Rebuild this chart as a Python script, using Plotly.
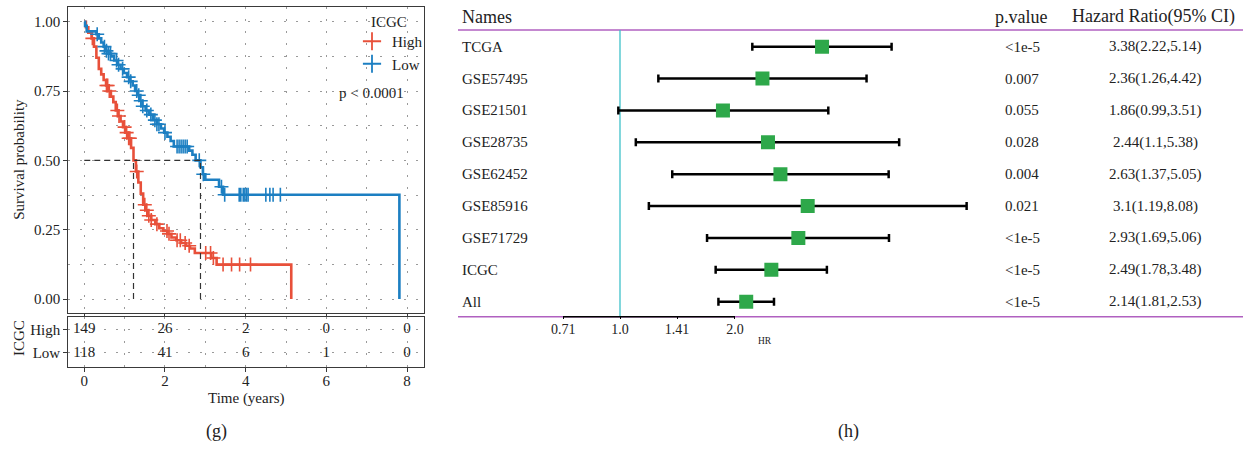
import numpy as np
import plotly.graph_objects as go

# ---------------- Kaplan-Meier data (ICGC) ----------------
high_t = [0, 0.04, 0.10, 0.18, 0.24, 0.30, 0.36, 0.42, 0.48, 0.54, 0.60, 0.66, 0.72, 0.78,
          0.84, 0.90, 0.96, 1.02, 1.08, 1.16, 1.22, 1.28, 1.34, 1.40, 1.46, 1.52, 1.58, 1.66,
          1.76, 1.86, 1.96, 2.06, 2.16, 2.28, 2.40, 2.52, 2.62, 2.74, 3.15, 3.28, 5.13]
high_s = [1.0, 0.98, 0.96, 0.94, 0.91, 0.87, 0.83, 0.81, 0.79, 0.77, 0.75, 0.73, 0.71, 0.68,
          0.66, 0.64, 0.62, 0.60, 0.58, 0.545, 0.50, 0.46, 0.42, 0.38, 0.34, 0.32, 0.30, 0.285,
          0.27, 0.255, 0.245, 0.235, 0.222, 0.212, 0.202, 0.192, 0.182, 0.166, 0.148, 0.124, 0.0]
low_t = [0, 0.02, 0.06, 0.30, 0.36, 0.42, 0.48, 0.54, 0.60, 0.66, 0.74, 0.82, 0.90, 0.98,
         1.06, 1.14, 1.20, 1.26, 1.32, 1.38, 1.44, 1.52, 1.60, 1.70, 1.80, 1.90, 1.98, 2.06,
         2.14, 2.22, 2.60, 2.68, 2.76, 2.88, 2.94, 3.00, 3.34, 3.44, 7.81]
low_s = [1.0, 0.985, 0.965, 0.955, 0.94, 0.925, 0.91, 0.895, 0.885, 0.875, 0.86, 0.845, 0.83, 0.815,
         0.80, 0.785, 0.77, 0.75, 0.735, 0.715, 0.695, 0.68, 0.665, 0.645, 0.63, 0.615, 0.60, 0.585,
         0.57, 0.55, 0.535, 0.52, 0.50, 0.475, 0.45, 0.43, 0.405, 0.376, 0.0]
high_censor_t = [0.20, 0.55, 0.58, 0.62, 0.82, 0.86, 1.00, 1.05, 1.10, 1.13, 1.30, 1.50, 1.55,
                 1.60, 1.66, 1.80, 2.05, 2.10, 2.30, 2.38, 2.50, 2.60, 3.01, 3.13, 3.20, 3.44,
                 3.65, 3.85, 4.12]
low_censor_t = [0.32, 0.50, 0.55, 0.60, 0.65, 0.80, 0.85, 0.95, 1.10, 1.15, 1.30, 1.35, 1.40,
                1.45, 1.55, 1.65, 1.75, 1.80, 1.85, 2.00, 2.30, 2.35, 2.40, 2.45, 2.50, 2.55,
                2.85, 2.95, 3.40, 3.48, 3.84, 3.88, 3.94, 3.98, 4.02, 4.06, 4.50, 4.60, 4.68, 4.86]
median_times = [1.22, 2.88]
risk_times = [0, 2, 4, 6, 8]
risk_high = [149, 26, 2, 0, 0]
risk_low = [118, 41, 6, 1, 0]
risk_groups = ["High", "Low"]
p_text = "p < 0.0001"

# ---------------- Forest plot data ----------------
names = ["TCGA", "GSE57495", "GSE21501", "GSE28735", "GSE62452", "GSE85916", "GSE71729", "ICGC", "All"]
hr = [3.38, 2.36, 1.86, 2.44, 2.63, 3.10, 2.93, 2.49, 2.14]
hr_lo = [2.22, 1.26, 0.99, 1.10, 1.37, 1.19, 1.69, 1.78, 1.81]
hr_hi = [5.14, 4.42, 3.51, 5.38, 5.05, 8.08, 5.06, 3.48, 2.53]
pvals = ["<1e-5", "0.007", "0.055", "0.028", "0.004", "0.021", "<1e-5", "<1e-5", "<1e-5"]
hr_text = ["3.38(2.22,5.14)", "2.36(1.26,4.42)", "1.86(0.99,3.51)", "2.44(1.1,5.38)",
           "2.63(1.37,5.05)", "3.1(1.19,8.08)", "2.93(1.69,5.06)", "2.49(1.78,3.48)",
           "2.14(1.81,2.53)"]
hr_ticks = [0.71, 1.0, 1.41, 2.0]
hr_ticktext = ["0.71", "1.0", "1.41", "2.0"]

# ---------------- styling ----------------
W, H = 1250, 449
FONT = "Liberation Serif"
TXT = "#222222"
RED = "#E8503A"
BLUE = "#1C7FC2"
GREEN = "#2EA84A"
PURPLE = "#B060C0"
CYAN = "#3EC1C9"
BORDER = "#3a3a3a"
GRID = "#9a9a9a"
GDASH = "2px,10px"


def px(x):
    return x / W


def py(y):
    return 1 - y / H


def step_at(ts, ss, t):
    i = np.searchsorted(np.array(ts), t, side="right") - 1
    return ss[i]


fig = go.Figure()

# KM curves
for t, s, col, ct, name in [(high_t, high_s, RED, high_censor_t, "High"),
                            (low_t, low_s, BLUE, low_censor_t, "Low")]:
    fig.add_trace(go.Scatter(x=t, y=s, mode="lines", line=dict(color=col, width=2.6, shape="hv"),
                             showlegend=False, xaxis="x", yaxis="y", hoverinfo="skip"))
    fig.add_trace(go.Scatter(x=ct, y=[step_at(t, s, c) for c in ct], mode="markers",
                             marker=dict(symbol="cross-thin", size=10, line=dict(color=col, width=1.6)),
                             showlegend=False, xaxis="x", yaxis="y", hoverinfo="skip"))
    fig.add_trace(go.Scatter(x=[None], y=[None], mode="markers", name=name,
                             marker=dict(symbol="cross-thin", size=13, line=dict(color=col, width=1.8)),
                             xaxis="x", yaxis="y"))

# median dashed lines
for m in median_times:
    fig.add_trace(go.Scatter(x=[m, m], y=[0, 0.5], mode="lines",
                             line=dict(color="#333", width=1.2, dash="6px,4px"),
                             showlegend=False, xaxis="x", yaxis="y", hoverinfo="skip"))
fig.add_trace(go.Scatter(x=[0, max(median_times)], y=[0.5, 0.5], mode="lines",
                         line=dict(color="#333", width=1.2, dash="6px,4px"),
                         showlegend=False, xaxis="x", yaxis="y", hoverinfo="skip"))

# risk table
for grp, vals in zip(risk_groups, [risk_high, risk_low]):
    fig.add_trace(go.Scatter(x=risk_times, y=[grp] * len(risk_times), mode="text",
                             text=[str(v) for v in vals], textposition="middle center",
                             textfont=dict(family=FONT, size=15, color=TXT),
                             showlegend=False, xaxis="x2", yaxis="y2", hoverinfo="skip"))

# forest plot
rows = list(range(len(names), 0, -1))
y_bot, y_top = 0.473, 9.524
axis_row = 0.529
fig.add_trace(go.Scatter(x=[1, 1], y=[axis_row, y_top], mode="lines", line=dict(color=CYAN, width=1.3),
                         showlegend=False, xaxis="x3", yaxis="y3", hoverinfo="skip"))
fig.add_trace(go.Scatter(x=[hr_ticks[0], hr_ticks[-1]], y=[axis_row, axis_row], mode="lines",
                         line=dict(color="black", width=1.5),
                         showlegend=False, xaxis="x3", yaxis="y3", hoverinfo="skip"))
fig.add_trace(go.Scatter(
    x=hr, y=rows, mode="markers",
    marker=dict(symbol="square", size=14, color=GREEN, line=dict(width=0)),
    error_x=dict(type="data", symmetric=False,
                 array=[h - m for h, m in zip(hr_hi, hr)],
                 arrayminus=[m - l for m, l in zip(hr, hr_lo)],
                 color="black", thickness=2.5, width=4),
    showlegend=False, xaxis="x3", yaxis="y3", hoverinfo="skip"))

grid_common = dict(showgrid=True, gridcolor=GRID, griddash=GDASH, gridwidth=1.2, zeroline=False)
axis_common = dict(showline=True, mirror=True, linecolor=BORDER, linewidth=1.3,
                   ticks="outside", ticklen=4, tickcolor=BORDER, tickwidth=1,
                   tickfont=dict(family=FONT, size=15, color=TXT))

km_dom_x = [px(68.3), px(424)]
fig.update_layout(
    width=W, height=H, margin=dict(l=0, r=0, t=0, b=0),
    paper_bgcolor="white", plot_bgcolor="white",
    font=dict(family=FONT, size=15, color=TXT),
    xaxis=dict(domain=km_dom_x, anchor="y", range=[-0.396, 8.42], tick0=0, dtick=2,
               showticklabels=False,
               minor=dict(dtick=1, tick0=0, showgrid=True, gridcolor=GRID, griddash=GDASH, gridwidth=1.2),
               **grid_common, **axis_common),
    yaxis=dict(domain=[py(313), py(7.3)], anchor="x", range=[-0.0505, 1.052], tick0=0, dtick=0.25,
               tickformat=".2f",
               minor=dict(dtick=0.125, tick0=0, showgrid=True, gridcolor=GRID, griddash=GDASH, gridwidth=1.2),
               **grid_common, **axis_common),
    xaxis2=dict(domain=km_dom_x, anchor="y2", range=[-0.396, 8.42], tick0=0, dtick=2,
                ticklabelstandoff=-4,
                minor=dict(dtick=1, tick0=0, showgrid=True, gridcolor=GRID, griddash=GDASH, gridwidth=1.2),
                **grid_common, **axis_common),
    yaxis2=dict(domain=[py(366.7), py(317.2)], anchor="x2", type="category",
                categoryorder="array", categoryarray=["Low", "High"], range=[-0.583, 1.52],
                **grid_common, **axis_common),
    xaxis3=dict(domain=[px(458), px(990)], anchor="y3", type="log", range=[-0.42408, 0.96859],
                tickvals=hr_ticks, ticktext=hr_ticktext, ticks="inside", ticklen=3, tickcolor="black",
                showline=False, showgrid=False, zeroline=False,
                tickfont=dict(family=FONT, size=14, color=TXT)),
    yaxis3=dict(domain=[py(318.5), py(30)], anchor="x3", range=[y_bot, y_top], visible=False,
                showgrid=False, zeroline=False),
    legend=dict(x=px(352), y=py(25), xanchor="left", yanchor="top", bgcolor="rgba(0,0,0,0)",
                font=dict(family=FONT, size=15, color=TXT), tracegroupgap=0, itemwidth=30),
    showlegend=True,
)

shapes = [
    dict(type="line", xref="paper", yref="paper", x0=px(458), x1=px(1243), y0=py(30), y1=py(30),
         line=dict(color=PURPLE, width=1.5), layer="below"),
    dict(type="line", xref="paper", yref="paper", x0=px(458), x1=px(1243), y0=py(316.7), y1=py(316.7),
         line=dict(color=PURPLE, width=1.5), layer="below"),
]
fig.update_layout(shapes=shapes)

ann = []


def add_text(text, x, y, size=15, xanchor="center", yanchor="middle", angle=0, xref="paper", yref="paper"):
    ann.append(dict(text=text, x=x, y=y, xref=xref, yref=yref, showarrow=False,
                    xanchor=xanchor, yanchor=yanchor, textangle=angle,
                    font=dict(family=FONT, size=size, color=TXT)))


# KM annotations
add_text("Survival probability", px(18.8), py(159), angle=-90)
add_text("ICGC", px(19), py(338), angle=-90)
add_text("Time (years)", px(246.7), py(398.3))
add_text("(g)", px(216.7), py(431.7), size=18)
add_text("(h)", px(848), py(431.7), size=18)
add_text(p_text, 7.11, 0.743, xref="x", yref="y")
add_text("ICGC", px(369), py(21.7), xanchor="left")

# forest annotations
add_text("Names", px(460), py(16.5), size=18, xanchor="left")
add_text("p.value", px(993), py(16.5), size=18, xanchor="left")
add_text("Hazard Ratio(95% CI)", px(1153), py(16.5), size=18)
for r, n, p, h in zip(rows, names, pvals, hr_text):
    add_text(n, px(460), r, xanchor="left", yref="y3")
    add_text(p, px(1003), r, xanchor="left", yref="y3")
    add_text(h, px(1155), r, yref="y3")
add_text("HR", px(765), py(340.7), size=9.5)

fig.update_layout(annotations=ann)
fig.write_html("out.html", config={"displayModeBar": False},
               post_script="document.body.style.margin='0';document.body.style.overflow='hidden';")
